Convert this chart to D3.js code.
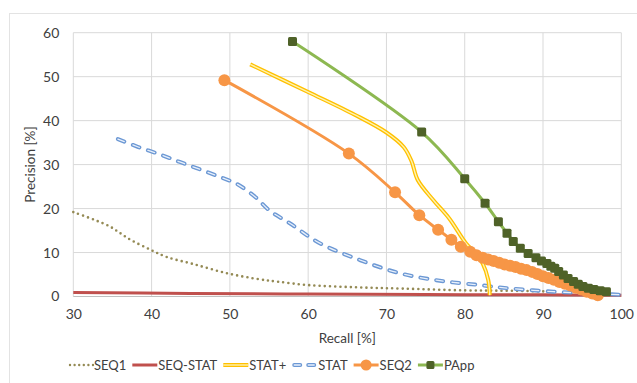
<!DOCTYPE html>
<html>
<head>
<meta charset="utf-8">
<script src="https://cdn.jsdelivr.net/npm/d3@7"></script>
<style>
  body { margin: 0; background: #fff; }
  text { font-family: Lato, "Open Sans", sans-serif; fill: #404040; }
</style>
</head>
<body>
<div id="chart"></div>
<script>
// recall / precision pairs
const seq1 = [[30,19.2],[32.6,17.5],[34.7,15.9],[36,14.4],[37.2,13],[39.8,10.7],[41.9,9],[45.3,7.4],[49.6,5.3],[53.8,3.9],[56,3.4],[60,2.6],[66,2.1],[72,1.8],[80,1.4],[86,1.3],[92,1.1]];
const seqStat = [[30,0.9],[45,0.7],[60,0.55],[75,0.45],[90,0.38],[100,0.3]];
const statPlus = [[52.6,52.8],[60,46.5],[66,41.3],[70,37.3],[72.2,34],[73.2,30.8],[74,26.5],[76,21.9],[78,17.8],[80.2,12],[81.4,9.8],[82.3,7.5],[83,3.8],[83.2,0.3]];
const stat = [[35.7,35.8],[38.3,34],[41.1,32.3],[43.6,30.6],[46.2,28.9],[48.7,27.2],[50.9,25.6],[53.2,22.7],[55.1,19.5],[57.7,16.6],[61.3,12.3],[66.6,8.3],[71.7,5.3],[76.8,3.6],[81.9,2.6],[85.4,1.9],[91.3,1.1],[96,0.7],[100,0.4]];
const seq2 = [[49.3,49.2],[65.2,32.5],[71.1,23.7],[74.2,18.5],[76.6,15.2],[78.3,12.9],[79.5,11.3],[80.7,10.2],[81.5,9.4],[82.3,8.8],[83,8.4],[83.7,8.1],[84.4,7.7],[85.1,7.3],[85.8,7],[86.5,6.7],[87.2,6.3],[87.9,6],[88.6,5.6],[89.3,5.1],[90,4.6],[90.7,4.2],[91.4,3.8],[92.1,3.3],[92.8,2.9],[93.5,2.5],[94.2,2],[94.9,1.6],[95.6,1.1],[96.3,0.7],[97,0.3]];
const papp = [[58,58],[74.5,37.4],[80,26.8],[82.6,21.2],[84.3,17],[85.4,14.4],[86.2,12.5],[87.1,11],[88.1,9.8],[89.1,8.8],[89.8,8.1],[90.5,7.5],[91,6.9],[91.5,6.4],[92,5.7],[92.6,4.9],[93.2,4.1],[93.9,3.4],[94.5,2.8],[95.1,2.3],[95.8,1.9],[96.5,1.6],[97.3,1.3],[98.1,1.1]];

const xTicks = [30, 40, 50, 60, 70, 80, 90, 100];
const yTicks = [0, 10, 20, 30, 40, 50, 60];
const seriesNames = ["SEQ1", "SEQ-STAT", "STAT+", "STAT", "SEQ2", "PApp"];

const W = 637, H = 383;
const plot = { left: 73.3, right: 621.3, top: 32.7, bottom: 296.5 };

const svg = d3.select("#chart").append("svg")
    .attr("width", W)
    .attr("height", H);

// outer chart frame
svg.append("rect")
    .attr("x", 9.5).attr("y", 13.5)
    .attr("width", 640).attr("height", 400)
    .attr("fill", "none")
    .attr("stroke", "#e3e3e3");

const x = d3.scaleLinear().domain([30, 100]).range([plot.left, plot.right]);
const y = d3.scaleLinear().domain([0, 60]).range([plot.bottom, plot.top]);

// grid
svg.append("g")
    .selectAll("line")
    .data(xTicks)
    .enter().append("line")
    .attr("x1", d => x(d)).attr("x2", d => x(d))
    .attr("y1", y(60)).attr("y2", y(0))
    .attr("stroke", "#d9d9d9").attr("stroke-width", 1);

svg.append("g")
    .selectAll("line")
    .data(yTicks)
    .enter().append("line")
    .attr("x1", x(30)).attr("x2", x(100))
    .attr("y1", d => y(d)).attr("y2", d => y(d))
    .attr("stroke", d => d === 0 ? "#bfbfbf" : "#d9d9d9").attr("stroke-width", 1);

// axes (labels only, lines come from grid)
const xAxis = svg.append("g")
    .attr("transform", "translate(0," + (plot.bottom + 5) + ")")
    .call(d3.axisBottom(x).tickValues(xTicks).tickSize(0).tickPadding(8));
xAxis.select(".domain").remove();
xAxis.selectAll("text").attr("font-size", "14px").attr("fill", "#404040")
    .attr("font-family", "Lato, sans-serif");

const yAxis = svg.append("g")
    .attr("transform", "translate(" + (plot.left - 6) + ",0)")
    .call(d3.axisLeft(y).tickValues(yTicks).tickSize(0).tickPadding(8));
yAxis.select(".domain").remove();
yAxis.selectAll("text").attr("font-size", "14px").attr("fill", "#404040")
    .attr("font-family", "Lato, sans-serif");

svg.append("text")
    .attr("x", (plot.left + plot.right) / 2)
    .attr("y", 343)
    .attr("text-anchor", "middle")
    .attr("font-size", "13.5px")
    .text("Recall [%]");

svg.append("text")
    .attr("transform", "translate(35," + ((plot.top + plot.bottom) / 2) + ") rotate(-90)")
    .attr("text-anchor", "middle")
    .attr("font-size", "13.5px")
    .text("Precision [%]");

const line = d3.line()
    .x(d => x(d[0]))
    .y(d => y(d[1]))
    .curve(d3.curveCatmullRom.alpha(0.5));

const lines = svg.append("g").attr("fill", "none");

// SEQ1 dotted
lines.append("path").datum(seq1).attr("d", line)
    .attr("stroke", "#948a54").attr("stroke-width", 2.6)
    .attr("stroke-dasharray", "0,5.2").attr("stroke-linecap", "round");

// SEQ-STAT
lines.append("path").datum(seqStat).attr("d", line)
    .attr("stroke", "#c0504d").attr("stroke-width", 3);

// STAT dashed double
lines.append("path").datum(stat).attr("d", line)
    .attr("stroke", "#6c98d4").attr("stroke-width", 4)
    .attr("stroke-dasharray", "7,9").attr("stroke-linecap", "round");
lines.append("path").datum(stat).attr("d", line)
    .attr("stroke", "#e8f0fb").attr("stroke-width", 1.3)
    .attr("stroke-dasharray", "7,9").attr("stroke-linecap", "round");

// STAT+ double line
lines.append("path").datum(statPlus).attr("d", line)
    .attr("stroke", "#ffc000").attr("stroke-width", 4);
lines.append("path").datum(statPlus).attr("d", line)
    .attr("stroke", "#fff3b0").attr("stroke-width", 1.4);

// SEQ2
lines.append("path").datum(seq2).attr("d", line)
    .attr("stroke", "#f79646").attr("stroke-width", 3);
svg.append("g").selectAll("circle")
    .data(seq2)
    .enter().append("circle")
    .attr("cx", d => x(d[0])).attr("cy", d => y(d[1]))
    .attr("r", 6).attr("fill", "#f79646");

// PApp
lines.append("path").datum(papp).attr("d", line)
    .attr("stroke", "#8db851").attr("stroke-width", 3);
svg.append("g").selectAll("rect")
    .data(papp)
    .enter().append("rect")
    .attr("x", d => x(d[0]) - 4.5).attr("y", d => y(d[1]) - 4.5)
    .attr("width", 9).attr("height", 9).attr("rx", 1.5)
    .attr("fill", "#4f6228");

// legend
const legend = svg.append("g").attr("transform", "translate(0,365)");
let lx = 68;
seriesNames.forEach((name, i) => {
    const g = legend.append("g").attr("transform", "translate(" + lx + ",0)");
    const sw = 25;
    if (i === 0) {
        g.append("line").attr("x1", 2).attr("x2", sw).attr("y1", 0).attr("y2", 0)
            .attr("stroke", "#948a54").attr("stroke-width", 2.4)
            .attr("stroke-dasharray", "0,4.6").attr("stroke-linecap", "round");
    } else if (i === 1) {
        g.append("line").attr("x1", 0).attr("x2", sw).attr("y1", 0).attr("y2", 0)
            .attr("stroke", "#c0504d").attr("stroke-width", 3);
    } else if (i === 2) {
        g.append("line").attr("x1", 0).attr("x2", sw).attr("y1", 0).attr("y2", 0)
            .attr("stroke", "#ffc000").attr("stroke-width", 4);
        g.append("line").attr("x1", 0).attr("x2", sw).attr("y1", 0).attr("y2", 0)
            .attr("stroke", "#fff3b0").attr("stroke-width", 1.4);
    } else if (i === 3) {
        [[2, 8], [16, 22]].forEach(s => {
            g.append("line").attr("x1", s[0]).attr("x2", s[1]).attr("y1", 0).attr("y2", 0)
                .attr("stroke", "#6c98d4").attr("stroke-width", 4).attr("stroke-linecap", "round");
            g.append("line").attr("x1", s[0]).attr("x2", s[1]).attr("y1", 0).attr("y2", 0)
                .attr("stroke", "#e8f0fb").attr("stroke-width", 1.3).attr("stroke-linecap", "round");
        });
    } else if (i === 4) {
        g.append("line").attr("x1", 0).attr("x2", sw).attr("y1", 0).attr("y2", 0)
            .attr("stroke", "#f79646").attr("stroke-width", 3);
        g.append("circle").attr("cx", sw / 2).attr("cy", 0).attr("r", 5.5).attr("fill", "#f79646");
    } else {
        g.append("line").attr("x1", 0).attr("x2", sw).attr("y1", 0).attr("y2", 0)
            .attr("stroke", "#8db851").attr("stroke-width", 3);
        g.append("rect").attr("x", sw / 2 - 4).attr("y", -4).attr("width", 8).attr("height", 8)
            .attr("rx", 1.5).attr("fill", "#4f6228");
    }
    const t = g.append("text").attr("x", sw + 1).attr("y", 5)
        .attr("font-size", "13px").text(name);
    lx += sw + 1 + t.node().getComputedTextLength() + 6;
});
</script>
</body>
</html>
